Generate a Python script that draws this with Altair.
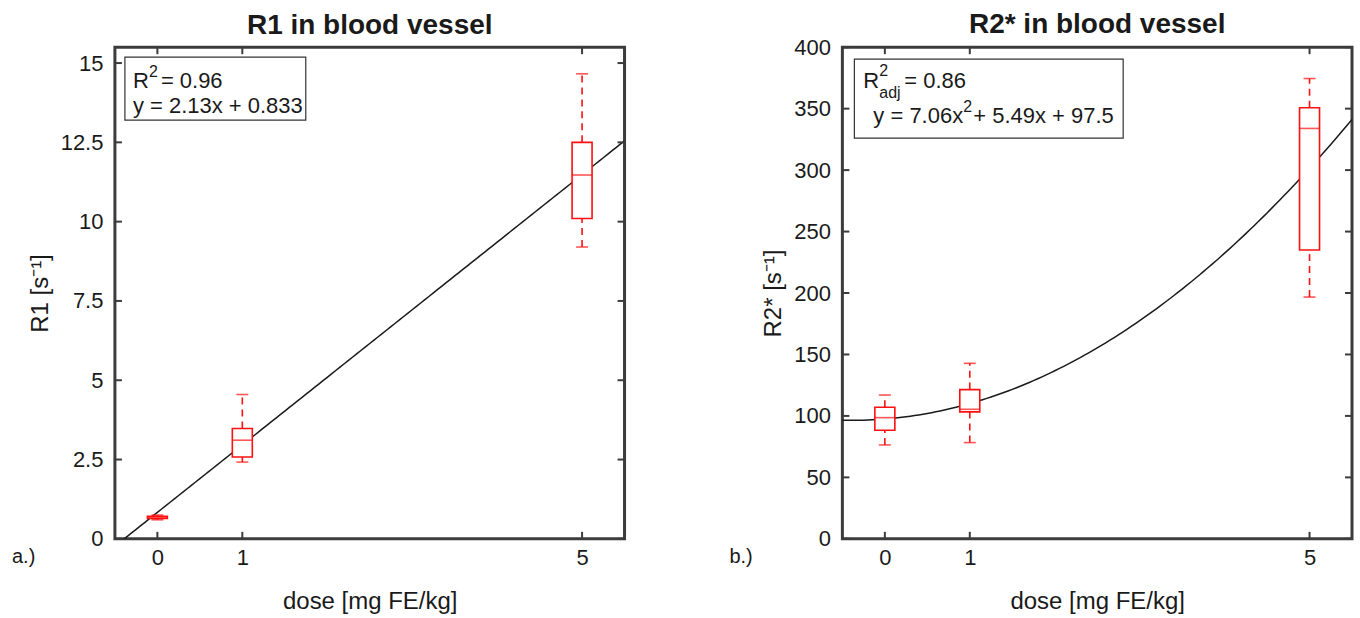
import altair as alt
import pandas as pd
import numpy as np

FONT = "Liberation Sans"
RED = "#ff1010"
FRAME = "#3c3c3c"

# ---------------- data ----------------
doses = [0, 1, 5]
x_ticks = [0, 1, 5]

# panel a: R1
r1_wlo = [0.60, 2.42, 9.20]
r1_q1 = [0.64, 2.58, 10.10]
r1_med = [0.67, 3.11, 11.47]
r1_q3 = [0.71, 3.48, 12.50]
r1_whi = [0.75, 4.55, 14.66]
r1_fit = [2.13, 0.833]            # polynomial coefficients (highest first)
r1_ticks = [0, 2.5, 5, 7.5, 10, 12.5, 15]

# panel b: R2*
r2_wlo = [76.4, 78.3, 196.7]
r2_q1 = [88.4, 103.3, 235.0]
r2_med = [98.6, 105.4, 333.9]
r2_q3 = [107.0, 121.4, 350.7]
r2_whi = [117.0, 142.8, 374.5]
r2_fit = [7.06, 5.49, 97.5]
r2_ticks = [0, 50, 100, 150, 200, 250, 300, 350, 400]

x_domain = [-0.5, 5.5]
r1_domain = [0, 15.5]
r2_domain = [0, 400]

W, H = 510, 492


def panel(wlo, q1, med, q3, whi, coeffs, ydom, yticks, ytitle, title, title_offset, tag, legend_layers):
    box = pd.DataFrame({"dose": doses, "wlo": wlo, "q1": q1, "med": med, "q3": q3, "whi": whi})
    xs = np.linspace(x_domain[0], x_domain[1], 121)
    fit = pd.DataFrame({"dose": xs, "v": np.polyval(coeffs, xs)})
    xt = pd.DataFrame({"dose": x_ticks})
    yt = pd.DataFrame({"v": yticks})

    xscale = alt.Scale(domain=x_domain, nice=False, zero=False, padding=0)
    yscale = alt.Scale(domain=ydom, nice=False, zero=False, padding=0)
    xaxis = alt.Axis(values=x_ticks, ticks=False, domain=False, grid=False,
                     labelPadding=9, labelFontSize=22, labelFont=FONT, labelColor="#1a1a1a",
                     title="dose [mg FE/kg]", titleFont=FONT, titleFontSize=24,
                     titleFontWeight="normal", titleColor="#1a1a1a", titlePadding=21)
    yaxis = alt.Axis(values=yticks, ticks=False, domain=False, grid=False,
                     labelPadding=12, labelFontSize=22, labelFont=FONT, labelColor="#1a1a1a",
                     labelExpr="'' + datum.value",
                     title=ytitle, titleFont=FONT, titleFontSize=24,
                     titleFontWeight="normal", titleColor="#1a1a1a", titlePadding=8)

    def X(f="dose"):
        return alt.X(f"{f}:Q", scale=xscale, axis=xaxis)

    def Y(f):
        return alt.Y(f"{f}:Q", scale=yscale, axis=yaxis)

    fit_line = alt.Chart(fit).mark_line(color="#1a1a1a", strokeWidth=1.5, clip=True).encode(
        x=X(), y=Y("v"))

    whisk_hi = alt.Chart(box).mark_rule(color=RED, strokeWidth=1.6, strokeDash=[7, 5]).encode(
        x=X(), y=Y("q3"), y2="whi")
    whisk_lo = alt.Chart(box).mark_rule(color=RED, strokeWidth=1.6, strokeDash=[7, 5]).encode(
        x=X(), y=Y("wlo"), y2="q1")
    cap_hi = alt.Chart(box).mark_tick(color=RED, orient="horizontal", size=12, thickness=1.6).encode(
        x=X(), y=Y("whi"))
    cap_lo = alt.Chart(box).mark_tick(color=RED, orient="horizontal", size=12, thickness=1.6).encode(
        x=X(), y=Y("wlo"))
    boxes = alt.Chart(box).mark_bar(fill="white", stroke=RED, strokeWidth=1.6, size=20).encode(
        x=X(), y=Y("q1"), y2="q3")
    medians = alt.Chart(box).mark_tick(color=RED, orient="horizontal", size=20, thickness=1.6).encode(
        x=X(), y=Y("med"))

    tick_style = dict(color=FRAME, strokeWidth=2)
    xt_bot = alt.Chart(xt).mark_rule(**tick_style).encode(x=X(), y=alt.value(H), y2=alt.value(H - 7))
    xt_top = alt.Chart(xt).mark_rule(**tick_style).encode(x=X(), y=alt.value(0), y2=alt.value(7))
    yt_l = alt.Chart(yt).mark_rule(**tick_style).encode(y=Y("v"), x=alt.value(0), x2=alt.value(7))
    yt_r = alt.Chart(yt).mark_rule(**tick_style).encode(y=Y("v"), x=alt.value(W - 7), x2=alt.value(W))

    tag_text = alt.Chart(pd.DataFrame({"t": [tag["text"]]})).mark_text(
        font=FONT, fontSize=20, align="left", baseline="alphabetic", color="#1a1a1a").encode(
        text="t:N", x=alt.value(tag["x"]), y=alt.value(tag["y"]))

    layers = [fit_line, whisk_hi, whisk_lo, cap_hi, cap_lo, boxes, medians,
              xt_bot, xt_top, yt_l, yt_r] + legend_layers + [tag_text]
    return alt.layer(*layers).properties(
        width=W, height=H,
        title=alt.TitleParams(title, font=FONT, fontSize=28, fontWeight="bold",
                              color="#1a1a1a", anchor="middle", frame="group",
                              offset=title_offset))


def legend(box, lines):
    one = pd.DataFrame({"a": [0]})
    out = [alt.Chart(one).mark_rect(fill="white", stroke="#333333", strokeWidth=1.2).encode(
        x=alt.value(box[0]), x2=alt.value(box[1]), y=alt.value(box[2]), y2=alt.value(box[3]))]
    for txt, x, y, size in lines:
        out.append(alt.Chart(pd.DataFrame({"t": [txt]})).mark_text(
            font=FONT, fontSize=size, align="left", baseline="alphabetic", color="#1a1a1a").encode(
            text="t:N", x=alt.value(x), y=alt.value(y)))
    return out


# legend text pieces: (text, x, baseline y, font size)
leg1_lines = [("R", 18, 41, 22), ("2", 34, 30, 16), ("= 0.96", 46, 41, 22),
              ("y = 2.13x + 0.833", 18, 66, 22)]
leg2_lines = [("R", 21, 41, 22), ("2", 37, 29, 16), ("adj", 37, 51, 16),
              ("= 0.86", 62, 41, 22),
              ("y = 7.06x", 31, 76, 22), ("2", 121, 65, 16), ("+ 5.49x + 97.5", 131, 76, 22)]

left = panel(r1_wlo, r1_q1, r1_med, r1_q3, r1_whi, r1_fit, r1_domain, r1_ticks,
             "R1 [s⁻¹]", "R1 in blood vessel", 6, {"text": "a.)", "x": -103, "y": 516},
             legend([10, 191, 10, 73], leg1_lines))
right = panel(r2_wlo, r2_q1, r2_med, r2_q3, r2_whi, r2_fit, r2_domain, r2_ticks,
              "R2* [s⁻¹]", "R2* in blood vessel", -3, {"text": "b.)", "x": -113, "y": 516},
              legend([12, 281, 12, 91], leg2_lines))

chart = alt.hconcat(left, right, spacing=100).properties(
    padding={"left": 10, "top": 9, "right": 5, "bottom": 5},
    background="white",
).configure_view(stroke=FRAME, strokeWidth=3)

chart.save("out.html", embed_options={"renderer": "svg", "actions": False})
